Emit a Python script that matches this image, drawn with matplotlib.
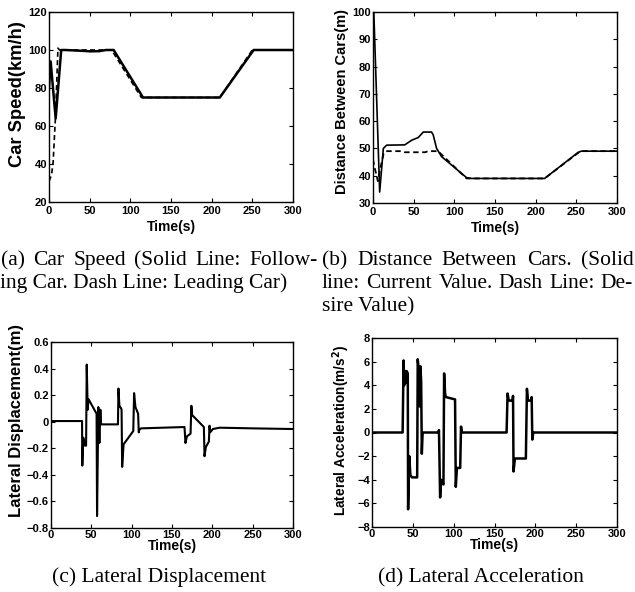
# Car following simulation results, four panels with paper-style captions

import matplotlib
matplotlib.use("Agg")
from matplotlib import pyplot as plt

# (a) car speed, km/h
speed_t = [0, 2, 8.2, 15, 20, 44, 50, 62, 70, 79.5, 115.6, 210, 251.6, 300]
speed_follow = [80, 94, 64, 100, 100, 99.5, 99.3, 99.4, 100, 100, 75, 75, 100, 100]
lead_t = [0, 3, 5, 8, 11, 13, 40, 77, 113.5, 210, 250, 300]
speed_lead = [31, 34, 40.5, 65, 101, 100, 100, 100, 75, 75, 100, 100]

# (b) distance between cars, m
dist_t = [0, 1, 8.2, 12.7, 16.8, 39, 47.5, 55.7, 61.8, 72, 74, 78.2, 84.3, 115,
          121, 211, 252, 256, 300]
dist_actual = [100, 100, 34, 50, 51.2, 51.3, 53, 54, 56, 56, 55, 50, 47, 39.3,
               39, 39, 48.5, 49, 49]
desired_t = [0, 2, 6, 10, 13, 16, 35, 39, 64, 68, 80, 115, 211, 255, 300]
dist_desired = [46, 43, 38, 44, 48, 49, 49, 48.6, 48.6, 49, 49, 39, 39, 49, 49]

# (c) lateral displacement, m
disp_t = [0, 38.5, 38.8, 40, 42, 43.5, 44.3, 45.5, 46.5, 56.5, 57.1, 58.7, 60,
          61.2, 62, 63, 83, 83.6, 84.8, 86.9, 87.5, 88.2, 90, 102, 103, 104.7,
          108, 108.8, 109.5, 111.7, 165.5, 166.7, 168.5, 173, 174, 175, 189.5,
          190.3, 192, 195.7, 196.5, 197.3, 200.7, 209, 250, 300]
disp_val = [0.005, 0.005, -0.33, -0.12, -0.18, -0.18, 0.43, 0.09, 0.17, 0.06,
            -0.71, 0.11, -0.16, 0.09, -0.02, -0.02, -0.02, 0.25, 0.12, 0.10,
            0.09, -0.34, -0.17, -0.07, 0.215, 0.11, 0.06, -0.08, -0.06, -0.05,
            -0.04, -0.16, -0.11, -0.09, 0.12, 0.05, -0.04, -0.26, -0.19, -0.15,
            -0.03, -0.08, -0.055, -0.045, -0.05, -0.055]

# (d) lateral acceleration, m/s^2
acc_t = [0, 37.5, 38.7, 39.5, 40.5, 41.5, 42.5, 43.8, 44.2, 45.6, 47, 48.8,
         55.3, 56, 57, 58.5, 59.3, 60.2, 61, 62, 63, 81.4, 82, 83.4, 84.7, 87.5,
         88.3, 89.5, 90.4, 101.7, 102.6, 104, 108, 109, 110, 164.8, 166, 167.5,
         172, 172.7, 173.3, 175, 188.4, 189.7, 191, 195, 195.5, 196.3, 197.5, 300]
acc_val = [0, 0, 6.1, 4, 5.2, 4.2, 5.2, 5.0, -6.5, -2, -3.6, -3.8,
           -3.8, 6.2, 5.5, 2.2, 5.6, 4.3, -1.8, 0, 0, 0, 0.2, -5.5, -4, -4.4,
           5, 3.3, 3, 2.8, -4.6, -3, -3, 0.5, 0, 0, 3.3, 2.7,
           2.7, 3.1, -3.3, -2.2, -2.2, 3.7, 2.7, 2.7, 3, -0.6, 0, 0]

W, H = 635, 592
fig = plt.figure(figsize=(W / 100, H / 100), dpi=100)

sans = ["Liberation Sans", "DejaVu Sans"]
serif = ["Liberation Serif", "DejaVu Serif"]


# pixel box -> figure axes
def make_axes(x0, y0, x1, y1):
    return fig.add_axes([x0 / W, 1 - y1 / H, (x1 - x0) / W, (y1 - y0) / H])


def style(ax, ylim, yticks, ylabel, ysize, ypos, tickpad, xpad):
    ax.set_xlim(0, 300)
    ax.set_ylim(*ylim)
    ax.set_xticks(range(0, 301, 50))
    ax.set_yticks(yticks)
    ax.tick_params(direction="in", top=True, right=True, length=3, width=0.8,
                   labelsize=8)
    ax.tick_params(axis="x", pad=tickpad)
    ax.tick_params(axis="y", pad=1.5)
    for lab in ax.get_xticklabels() + ax.get_yticklabels():
        lab.set_family(sans)
        lab.set_fontweight("bold")
    for sp in ax.spines.values():
        sp.set_linewidth(1.0)
    ax.set_xlabel("Time(s)", family=sans, fontweight="bold", fontsize=10,
                  labelpad=xpad)
    ax.set_ylabel(ylabel, family=sans, fontweight="bold", fontsize=ysize)
    ax.yaxis.set_label_coords(*ypos)


ax_a = make_axes(49, 12, 293, 202)
ax_a.plot(lead_t, speed_lead, color="black", lw=1.2, ls=(0, (3, 2)))
ax_a.plot(speed_t, speed_follow, color="black", lw=1.8)
style(ax_a, (20, 120), range(20, 121, 20), "Car Speed(km/h)", 13.2,
      (-0.095, 0.57), 3, 3)

ax_b = make_axes(373, 12, 617, 203)
ax_b.plot(desired_t, dist_desired, color="black", lw=1.3, ls=(0, (3, 2)))
ax_b.plot(dist_t, dist_actual, color="black", lw=1.2)
style(ax_b, (30, 100), range(30, 101, 10), "Distance Between Cars(m)", 10.5,
      (-0.098, 0.53), 3, 3)

ax_c = make_axes(51, 342, 293, 528)
ax_c.plot(disp_t, disp_val, color="black", lw=1.5)
style(ax_c, (-0.8, 0.6), [-0.8, -0.6, -0.4, -0.2, 0, 0.2, 0.4, 0.6],
      "Lateral Displacement(m)", 12, (-0.11, 0.58), 1.5, -1)
ax_c.set_yticklabels(["\u22120.8", "\u22120.6", "\u22120.4", "\u22120.2", "0",
                      "0.2", "0.4", "0.6"], family=sans, fontweight="bold")

ax_d = make_axes(372, 338, 617, 527)
ax_d.plot(acc_t, acc_val, color="black", lw=1.8)
style(ax_d, (-8, 8), range(-8, 9, 2), "Lateral Acceleration(m/s$^\\mathbf{2}$)",
      9.8, (-0.08, 0.51), 1.5, -1)

# captions, set in justified lines like the paper
cap = dict(family=serif, fontsize=15.5, va="baseline", ha="left")
renderer = fig.canvas.get_renderer()


def justified(x0, x1, y, line):
    words = [fig.text(0, 1 - y / H, w, **cap) for w in line.split()]
    widths = [t.get_window_extent(renderer).width for t in words]
    gap = (x1 - x0 - sum(widths)) / (len(words) - 1)
    x = x0
    for t, w in zip(words, widths):
        t.set_x(x / W)
        x += w + gap


justified(1, 318, 265, "(a) Car Speed (Solid Line: Follow-")
fig.text(0, 1 - 288 / H, "ing Car. Dash Line: Leading Car)", **cap)
justified(322, 634, 265, "(b) Distance Between Cars. (Solid")
justified(322, 633, 288, "line: Current Value. Dash Line: De-")
fig.text(322 / W, 1 - 311 / H, "sire Value)", **cap)
cap["ha"] = "center"
fig.text(159 / W, 1 - 582 / H, "(c) Lateral Displacement", **cap)
fig.text(481 / W, 1 - 582 / H, "(d) Lateral Acceleration", **cap)

fig.savefig("out.png", dpi=100)
